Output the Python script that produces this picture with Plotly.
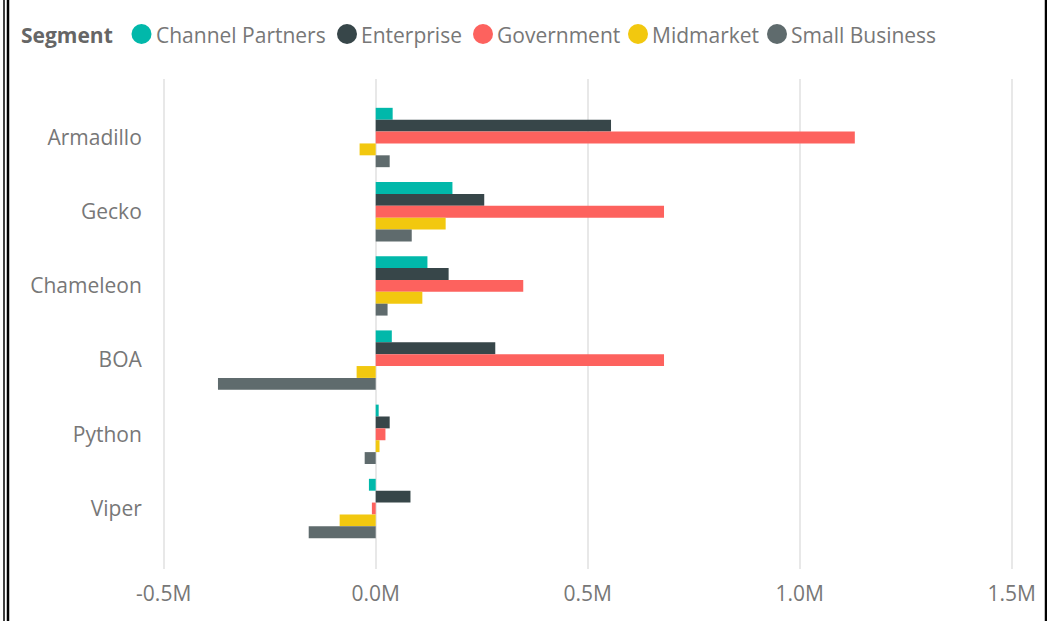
import plotly.graph_objects as go

# Sales profit by product and customer segment
PRODUCTS = ["Armadillo", "Gecko", "Chameleon", "BOA", "Python", "Viper"]
SEGMENTS = ["Channel Partners", "Enterprise", "Government", "Midmarket", "Small Business"]
COLORS = ["#01B8AA", "#374649", "#FD625E", "#F2C80F", "#5F6B6D"]

CHANNEL_PARTNERS = [40000, 181000, 122000, 38000, 7000, -16000]
ENTERPRISE = [555000, 256000, 172000, 282000, 33000, 82000]
GOVERNMENT = [1130000, 680000, 348000, 680000, 23000, -9000]
MIDMARKET = [-38000, 165000, 110000, -45000, 9000, -85000]
SMALL_BUSINESS = [33000, 85000, 28000, -372000, -26000, -158000]

TICK_VALUES = [-500000, 0, 500000, 1000000, 1500000]
TICK_LABELS = ["-0.5M", "0.0M", "0.5M", "1.0M", "1.5M"]

SERIES = [CHANNEL_PARTNERS, ENTERPRISE, GOVERNMENT, MIDMARKET, SMALL_BUSINESS]

W, H = 1047, 621
PL, PR, PT, PB = 150, 1030, 79, 569          # plot area in pixels
PX_PER_UNIT = 424 / 1e6                       # horizontal scale
ZERO_PX = 375.7
ROW_PX = 74.2
FIRST_ROW_PX = 137.5

TEXT = "#777777"
FONT = "Segoe UI, Open Sans, sans-serif"


def px_x(p):
    return (p - PL) / (PR - PL)


def px_y(p):
    return (PB - p) / (PB - PT)


fig = go.Figure()
for name, color, values in zip(SEGMENTS, COLORS, SERIES):
    fig.add_trace(go.Bar(
        y=PRODUCTS, x=values, name=name, orientation="h",
        marker=dict(color=color, line=dict(width=0)),
        showlegend=False,
    ))

# Legend: title, coloured dots and segment names along the top
shapes = []
annotations = [dict(
    text="<b>Segment</b>", x=px_x(19), y=px_y(35), xref="paper", yref="paper",
    xanchor="left", yanchor="middle", showarrow=False,
    font=dict(family=FONT, size=21, color="#666666"),
)]
legend_dot_x = [141.5, 347, 483, 638, 777]
for name, color, cx in zip(SEGMENTS, COLORS, legend_dot_x):
    shapes.append(dict(
        type="circle", xref="paper", yref="paper",
        x0=px_x(cx - 10), x1=px_x(cx + 10), y0=px_y(44), y1=px_y(24),
        fillcolor=color, line=dict(width=0),
    ))
    annotations.append(dict(
        text=name, x=px_x(cx + 12), y=px_y(35), xref="paper", yref="paper",
        xanchor="left", yanchor="middle", showarrow=False,
        font=dict(family=FONT, size=21, color=TEXT),
    ))

# Frame lines at the left and right edges
for xpos, wid in [(4, 1.5), (8, 2.5), (1046, 2.5)]:
    shapes.append(dict(
        type="line", xref="paper", yref="paper",
        x0=px_x(xpos), x1=px_x(xpos), y0=px_y(0), y1=px_y(H),
        line=dict(color="#000000", width=wid),
    ))

x_lo = (PL - ZERO_PX) / PX_PER_UNIT
x_hi = (PR - ZERO_PX) / PX_PER_UNIT
y_top = -(FIRST_ROW_PX - PT) / ROW_PX
y_bot = (len(PRODUCTS) - 1) + (PB - (FIRST_ROW_PX + ROW_PX * (len(PRODUCTS) - 1))) / ROW_PX

fig.update_layout(
    width=W, height=H,
    margin=dict(l=PL, r=W - PR, t=PT, b=H - PB),
    paper_bgcolor="white", plot_bgcolor="white",
    barmode="group", bargap=0.2, bargroupgap=0,
    font=dict(family=FONT, color=TEXT),
    shapes=shapes, annotations=annotations,
    xaxis=dict(
        range=[x_lo, x_hi], tickvals=TICK_VALUES, ticktext=TICK_LABELS,
        showgrid=True, gridcolor="#E8E8E8", gridwidth=1.5,
        zeroline=False, showline=False,
        ticks="outside", ticklen=6, tickcolor="rgba(0,0,0,0)",
        tickfont=dict(family=FONT, size=21, color=TEXT),
    ),
    yaxis=dict(
        range=[y_bot, y_top], type="category",
        showgrid=False, zeroline=False, showline=False,
        ticks="outside", ticklen=3, tickcolor="rgba(0,0,0,0)",
        tickfont=dict(family=FONT, size=21, color=TEXT),
    ),
)

fig.write_html("out.html")
